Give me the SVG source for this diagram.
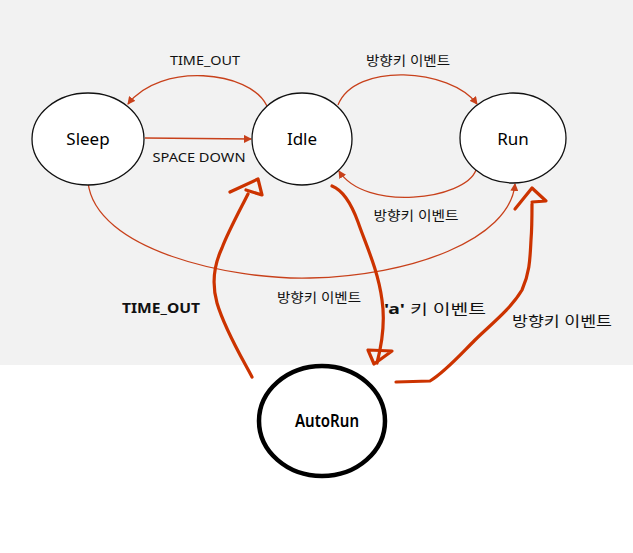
<svg xmlns="http://www.w3.org/2000/svg" width="633" height="553" viewBox="0 0 633 553">
<style>
.node{fill:#fff;stroke:#111;stroke-width:1.3}
.thick{fill:#fff;stroke:#000;stroke-width:4.5}
.nt{font-family:"Noto Sans","Noto Sans CJK KR",sans-serif;font-size:17px;fill:#000;text-anchor:middle}
.lb{font-family:"Noto Sans","Noto Sans CJK KR",sans-serif;font-size:13px;fill:#111}
.lbb{font-family:"Noto Sans","Noto Sans CJK KR",sans-serif;font-size:14px;fill:#111}
.thin{fill:none;stroke:#c8411b;stroke-width:1.3}
.hand{fill:none;stroke:#cc3300;stroke-width:3.2;stroke-linecap:round;stroke-linejoin:round}
</style>
<defs>
<marker id="ah" markerWidth="8" markerHeight="8" refX="7" refY="4" orient="auto" markerUnits="userSpaceOnUse">
<path d="M0,0 L8,4 L0,8 Z" fill="#c8411b"/>
</marker>
</defs>
<rect x="0" y="0" width="633" height="365" fill="#f2f2f2"/>
<rect x="0" y="365" width="633" height="188" fill="#fff"/>
<g id="connectors">
<path class="thin" d="M267,106 C250,70 160,62 128,104" marker-end="url(#ah)"/>
<path class="thin" d="M145,138 L251,139" marker-end="url(#ah)"/>
<path class="thin" d="M338,105 C355,62 450,68 477,104" marker-end="url(#ah)"/>
<path class="thin" d="M476,170 C465,200 365,212 339,171" marker-end="url(#ah)"/>
<path class="thin" d="M88,182 C95,250 230,280 310,278 C410,276 510,240 515,184" marker-end="url(#ah)"/>
<path class="hand" d="M252,377 C242,358 225,330 217,303 C212,285 214,265 222,248 C228,232 240,210 248,194"/>
<path class="hand" d="M230,192 L258,179 L262,195 L246,190"/>
<path class="hand" d="M332,186 C342,190 350,200 358,222 C366,245 378,270 382,300 C385,320 383,340 377,363"/>
<path class="hand" d="M368,350 L392,351 L374,364 Z"/>
<path class="hand" d="M396,382 L430,381 C445,372 460,355 475,340 C490,325 510,310 522,290 C530,272 530,258 531,240 C532,228 532,215 532,204"/>
<path class="hand" d="M515,209 L532,188 L546,201 L532,202"/>
</g>
<g id="labels">
<text class="lb" x="205" y="65" text-anchor="middle" textLength="70" lengthAdjust="spacingAndGlyphs">TIME_OUT</text>
<text class="lb" x="408" y="65" text-anchor="middle" textLength="84" lengthAdjust="spacingAndGlyphs">방향키 이벤트</text>
<text class="lb" x="199" y="162" text-anchor="middle" textLength="93" lengthAdjust="spacingAndGlyphs">SPACE DOWN</text>
<text class="lb" x="416" y="220" text-anchor="middle" textLength="85" lengthAdjust="spacingAndGlyphs">방향키 이벤트</text>
<text class="lb" x="319" y="302" text-anchor="middle" textLength="84" lengthAdjust="spacingAndGlyphs">방향키 이벤트</text>
<text class="lbb" x="161" y="313" text-anchor="middle" font-weight="bold" textLength="78" lengthAdjust="spacingAndGlyphs">TIME_OUT</text>
<text class="lbb" x="435" y="314" text-anchor="middle" textLength="102" lengthAdjust="spacingAndGlyphs"><tspan font-weight="bold">'a'</tspan> 키 이벤트</text>
<text class="lbb" x="562" y="326" text-anchor="middle" textLength="100" lengthAdjust="spacingAndGlyphs">방향키 이벤트</text>
</g>
<g id="node-sleep">
<ellipse class="node" cx="88" cy="139" rx="56" ry="46"/>
<text class="nt" x="88" y="145">Sleep</text>
</g>
<g id="node-idle">
<ellipse class="node" cx="302" cy="139" rx="50" ry="46"/>
<text class="nt" x="302" y="145">Idle</text>
</g>
<g id="node-run">
<ellipse class="node" cx="513" cy="138" rx="53" ry="45"/>
<text class="nt" x="513" y="145">Run</text>
</g>
<g id="node-autorun">
<ellipse class="thick" cx="322" cy="421" rx="63" ry="55"/>
<text class="nt" x="327" y="427" font-size="14px" font-weight="600" textLength="64" lengthAdjust="spacingAndGlyphs">AutoRun</text>
</g>
</svg>
